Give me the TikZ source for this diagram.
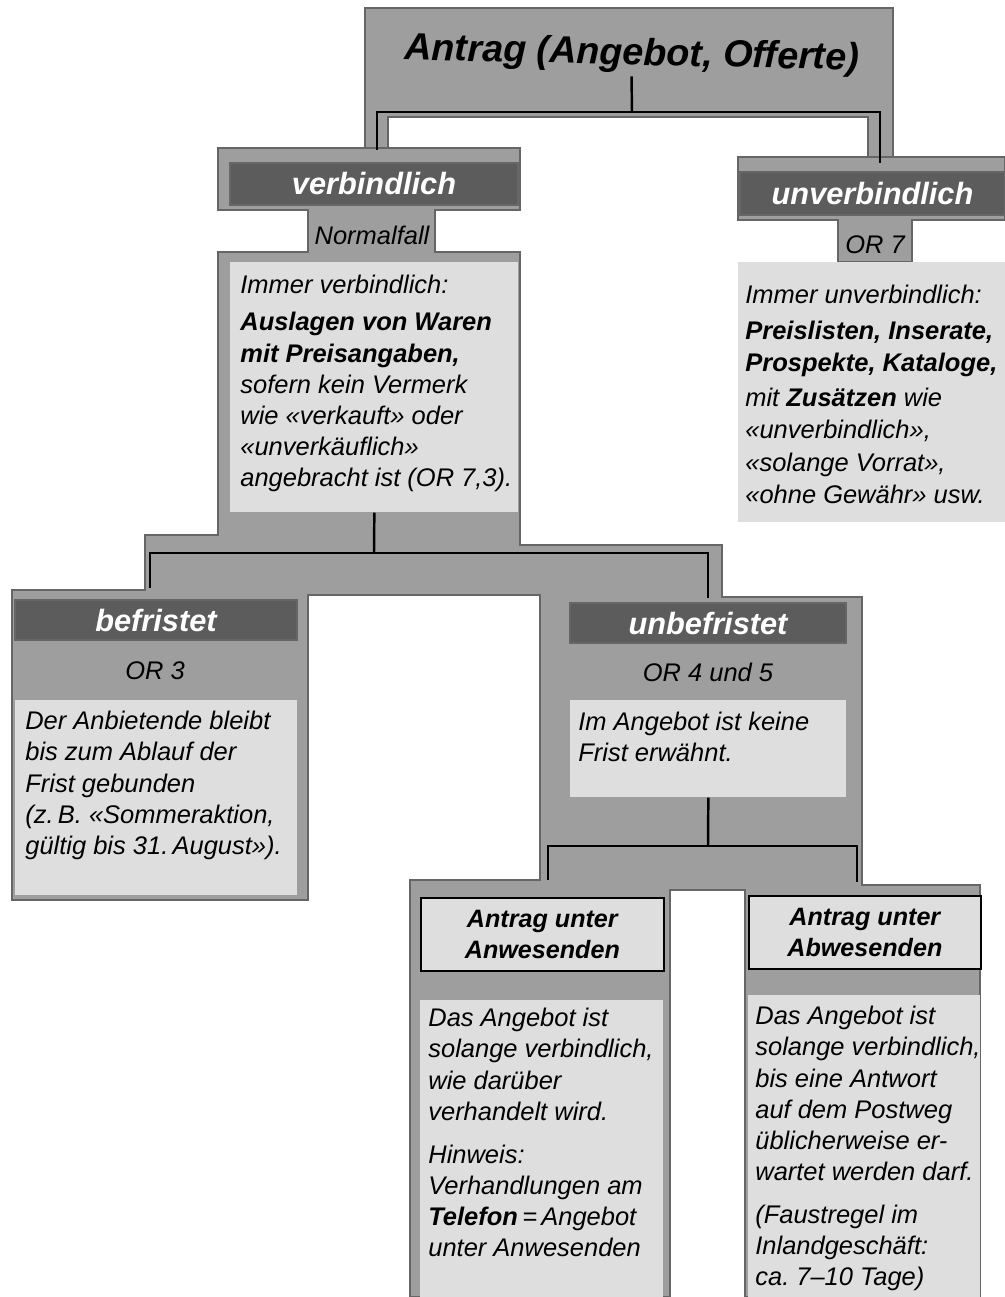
\documentclass[tikz,border=0pt]{standalone}
\usepackage{fontspec}
\setmainfont{Liberation Sans}
\definecolor{midgray}{gray}{0.62}
\definecolor{bargray}{gray}{0.36}
\definecolor{litegray}{gray}{0.87}
\definecolor{edgegray}{gray}{0.40}
\begin{document}
\begin{tikzpicture}[x=0.2mm, y=-0.2mm,
    bg/.style={fill=midgray, draw=edgegray, line width=0.7pt},
    bar/.style={fill=bargray, draw=edgegray, line width=0.6pt, text=white, inner sep=0pt,
      font=\fontsize{17.5}{20}\selectfont\bfseries\itshape},
    lite/.style={fill=litegray, inner sep=0pt, anchor=north west},
    body/.style={inner sep=0pt, anchor=north west, align=left,
      font=\fontsize{14.5}{17.7}\selectfont\itshape},
    tab/.style={inner sep=0pt, font=\fontsize{14.5}{17.7}\selectfont\itshape},
    headbox/.style={lite, draw=black, line width=1pt, align=center,
      font=\fontsize{14.3}{17.4}\selectfont\bfseries\itshape},
    tree/.style={line width=1.4pt}]
    \useasboundingbox (0,0) rectangle (1005,1297);
    \draw[bg] (365,8) -- (893,8) -- (893,160) -- (868,160) -- (868,117) -- (388,117) -- (388,150) -- (365,150) -- cycle;
    \draw[bg] (218,148) -- (520,148) -- (520,210) -- (435,210) -- (435,252) -- (520,252) -- (520,545) -- (722,545) -- (722,597) -- (862,597) -- (862,885) -- (980,885) -- (980,1297) -- (745,1297) -- (745,890) -- (670,890) -- (670,1297) -- (410,1297) -- (410,880) -- (540,880) -- (540,595) -- (308,595) -- (308,900) -- (12,900) -- (12,590) -- (145,590) -- (145,535) -- (218,535) -- (218,252) -- (308,252) -- (308,210) -- (218,210) -- cycle;
    \draw[bg] (738,157) -- (1005,157) -- (1005,220) -- (912,220) -- (912,262) -- (838,262) -- (838,220) -- (738,220) -- cycle;
    \node[inner sep=2pt, rotate=-1.3, font=\fontsize{21.5}{24}\selectfont\bfseries\itshape] (title) at (632,55) {Antrag (Angebot, Offerte)};
    \node[bar, minimum width=57.6mm, minimum height=8.4mm] (verb) at (374,184) {verbindlich};
    \node[bar, minimum width=53mm, minimum height=8.6mm] (unverb) at (872.5,193.5) {unverbindlich};
    \node[tab] (normal) at (372,235) {Normalfall};
    \node[tab] (or7) at (875,245) {OR 7};
    \node[lite, minimum width=57.6mm, minimum height=50mm] (lbox) at (230,262) {};
    \node[body] (ltext) at (240,275) {Immer verbindlich:\\[1.2mm]
      \textbf{Auslagen von Waren}\\
      \textbf{mit Preisangaben,}\\
      sofern kein Vermerk\\
      wie «verkauft» oder\\
      «unverkäuflich»\\
      angebracht ist (OR 7,3).};
    \node[lite, minimum width=53.4mm, minimum height=52mm] (rbox) at (738,262) {};
    \node[body, font=\fontsize{14.5}{18.5}\selectfont\itshape] (rtext) at (745,285) {Immer unverbindlich:\\[0.6mm]
      \textbf{Preislisten, Inserate,}\\
      \textbf{Prospekte, Kataloge,}\\[0.4mm]
      mit \textbf{Zusätzen} wie\\
      «unverbindlich»,\\
      «solange Vorrat»,\\
      «ohne Gewähr» usw.};
    \node[bar, minimum width=56.4mm, minimum height=8mm] (befr) at (156,620) {befristet};
    \node[bar, minimum width=55.2mm, minimum height=8mm] (unbefr) at (708,623) {unbefristet};
    \node[tab] (or3) at (155,671) {OR 3};
    \node[tab] (or45) at (708,672) {OR 4 und 5};
    \node[lite, minimum width=56.4mm, minimum height=39mm] (bbox) at (15,700) {};
    \node[body] (btext) at (25,711) {Der Anbietende bleibt\\
      bis zum Ablauf der\\
      Frist gebunden\\
      (z.\,B. «Sommeraktion,\\
      gültig bis 31.\,August»).};
    \node[lite, minimum width=55.2mm, minimum height=19.4mm] (ubbox) at (570,700) {};
    \node[body] (ubtext) at (578,712) {Im Angebot ist keine\\
      Frist erwähnt.};
    \node[headbox, minimum width=48.6mm, minimum height=14.6mm] (awhead) at (420,897) {Antrag unter\\Anwesenden};
    \node[headbox, minimum width=46.4mm, minimum height=14.6mm] (abhead) at (748,895) {Antrag unter\\Abwesenden};
    \node[lite, minimum width=48.6mm, minimum height=59.4mm] (awbox) at (420,1000) {};
    \node[body] (awtext) at (428,1008) {Das Angebot ist\\
      solange verbindlich,\\
      wie darüber\\
      verhandelt wird.\\[2.4mm]
      Hinweis:\\
      Verhandlungen am\\
      \textbf{Telefon}\,=\,Angebot\\
      unter Anwesenden};
    \node[lite, minimum width=46.4mm, minimum height=60.4mm] (abbox) at (748,995) {};
    \node[body] (abtext) at (755,1006) {Das Angebot ist\\
      solange verbindlich,\\
      bis eine Antwort\\
      auf dem Postweg\\
      üblicherweise er-\\
      wartet werden darf.\\[2.4mm]
      (Faustregel im\\
      Inlandgeschäft:\\
      ca.\ 7–10 Tage)};
    \coordinate (t0) at (632,112);
    \coordinate (verbtop) at (377,150);
    \coordinate (unverbtop) at (880,163);
    \coordinate (m0) at (374,553);
    \coordinate (befrtop) at (150,588);
    \coordinate (unbefrtop) at (708,598);
    \coordinate (u0) at (708,846);
    \coordinate (awtop) at (548,880);
    \coordinate (abtop) at (857,882);
    \draw[tree] (title.south) -- (t0);
    \draw[tree] (verbtop) |- (t0) -| (unverbtop);
    \draw[tree] (lbox.south) -- (m0);
    \draw[tree] (befrtop) |- (m0) -| (unbefrtop);
    \draw[tree] (ubbox.south) -- (u0);
    \draw[tree] (awtop) |- (u0) -| (abtop);
\end{tikzpicture}
\end{document}
